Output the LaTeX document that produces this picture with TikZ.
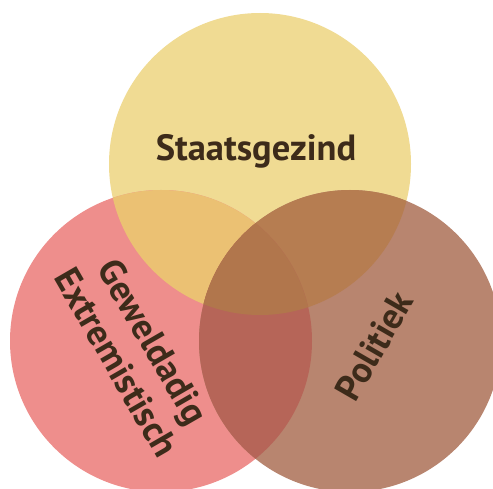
\documentclass[tikz,border=0pt]{standalone}
\usepackage{fontspec}
\setmainfont{PT Sans}
\definecolor{staat}{HTML}{F0DB93}
\definecolor{geweld}{HTML}{EE8E8C}
\definecolor{polit}{HTML}{B8856F}
\definecolor{staatgeweld}{HTML}{EBC173}
\definecolor{staatpolit}{HTML}{B67D51}
\definecolor{geweldpolit}{HTML}{B66558}
\definecolor{midden}{HTML}{B1764C}
\definecolor{labeltxt}{HTML}{3D2B1A}

\begin{document}
\begin{tikzpicture}[
        x=1pt, y=-1pt,
        lbl/.style={font=\bfseries\fontsize{36.5}{42}\selectfont, text=labeltxt, align=center},
    ]
    \useasboundingbox (0,0) rectangle (493,489);
    \coordinate (T) at (260,164);
    \coordinate (L) at (161,341);
    \coordinate (R) at (350,341);

    % the three sets
    \fill[staat] (T) circle (151pt);
    \fill[geweld] (L) circle (151pt);
    \fill[polit] (R) circle (151pt);

    % overlaps
    \begin{scope}
        \clip (T) circle (151pt);
        \fill[staatgeweld] (L) circle (151pt);
        \fill[staatpolit] (R) circle (151pt);
    \end{scope}
    \begin{scope}
        \clip (L) circle (151pt);
        \fill[geweldpolit] (R) circle (151pt);
    \end{scope}
    \begin{scope}
        \clip (T) circle (151pt);
        \clip (L) circle (151pt);
        \fill[midden] (R) circle (151pt);
    \end{scope}

    \node[lbl] (staatsgezind) at (256,151) {Staatsgezind};
    \node[lbl, rotate=-60] (geweld) at (135,352) {Geweldadig\\Extremistisch};
    \node[lbl, rotate=60] (politiek) at (374,346) {Politiek};
\end{tikzpicture}
\end{document}
